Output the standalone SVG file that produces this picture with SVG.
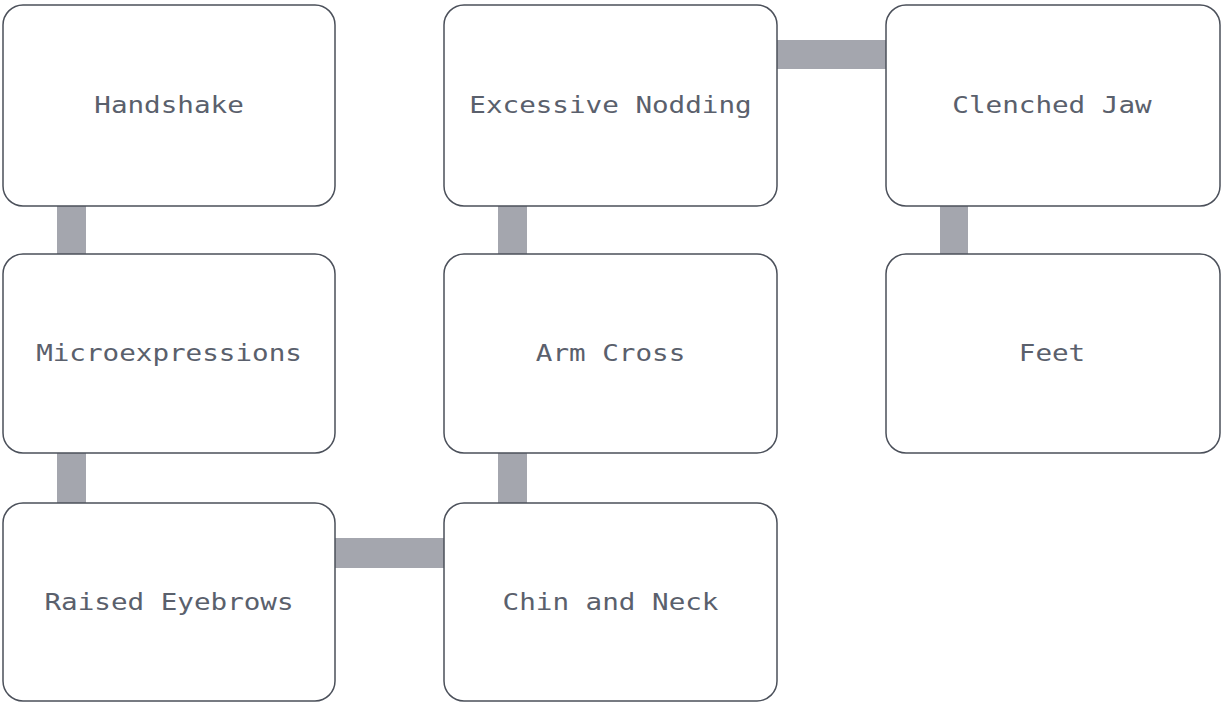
<svg xmlns="http://www.w3.org/2000/svg" width="1225" height="704" viewBox="0 0 1225 704">
<style>
.box{fill:#ffffff;stroke:#4b505a;stroke-width:1.5}
.lbl{font-family:"DejaVu Sans Mono","Liberation Mono",monospace;font-size:23px;fill:#5a606c;text-anchor:middle}
.con{fill:#a4a6ae}
</style>
<rect width="1225" height="704" fill="#ffffff"/>
<g id="connectors">
<rect class="con" x="57" y="205" width="29" height="50"/>
<rect class="con" x="57" y="452" width="29" height="52"/>
<rect class="con" x="334" y="538" width="111" height="30"/>
<rect class="con" x="498" y="452" width="29" height="52"/>
<rect class="con" x="498" y="205" width="29" height="50"/>
<rect class="con" x="776" y="40" width="111" height="29"/>
<rect class="con" x="940" y="205" width="28" height="50"/>
</g>
<g id="handshake"><rect class="box" x="3" y="5" width="332" height="201" rx="20"/><text class="lbl" transform="translate(169,113) scale(1.2,1)">Handshake</text></g>
<g id="microexpressions"><rect class="box" x="3" y="254" width="332" height="199" rx="20"/><text class="lbl" transform="translate(169,361) scale(1.2,1)">Microexpressions</text></g>
<g id="raised-eyebrows"><rect class="box" x="3" y="503" width="332" height="198" rx="20"/><text class="lbl" transform="translate(169,610) scale(1.2,1)">Raised Eyebrows</text></g>
<g id="excessive-nodding"><rect class="box" x="444" y="5" width="333" height="201" rx="20"/><text class="lbl" transform="translate(610.5,113) scale(1.2,1)">Excessive Nodding</text></g>
<g id="arm-cross"><rect class="box" x="444" y="254" width="333" height="199" rx="20"/><text class="lbl" transform="translate(610.5,361) scale(1.2,1)">Arm Cross</text></g>
<g id="chin-and-neck"><rect class="box" x="444" y="503" width="333" height="198" rx="20"/><text class="lbl" transform="translate(610.5,610) scale(1.2,1)">Chin and Neck</text></g>
<g id="clenched-jaw"><rect class="box" x="886" y="5" width="334" height="201" rx="20"/><text class="lbl" transform="translate(1052,113) scale(1.2,1)">Clenched Jaw</text></g>
<g id="feet"><rect class="box" x="886" y="254" width="334" height="199" rx="20"/><text class="lbl" transform="translate(1052,361) scale(1.2,1)">Feet</text></g>
</svg>
